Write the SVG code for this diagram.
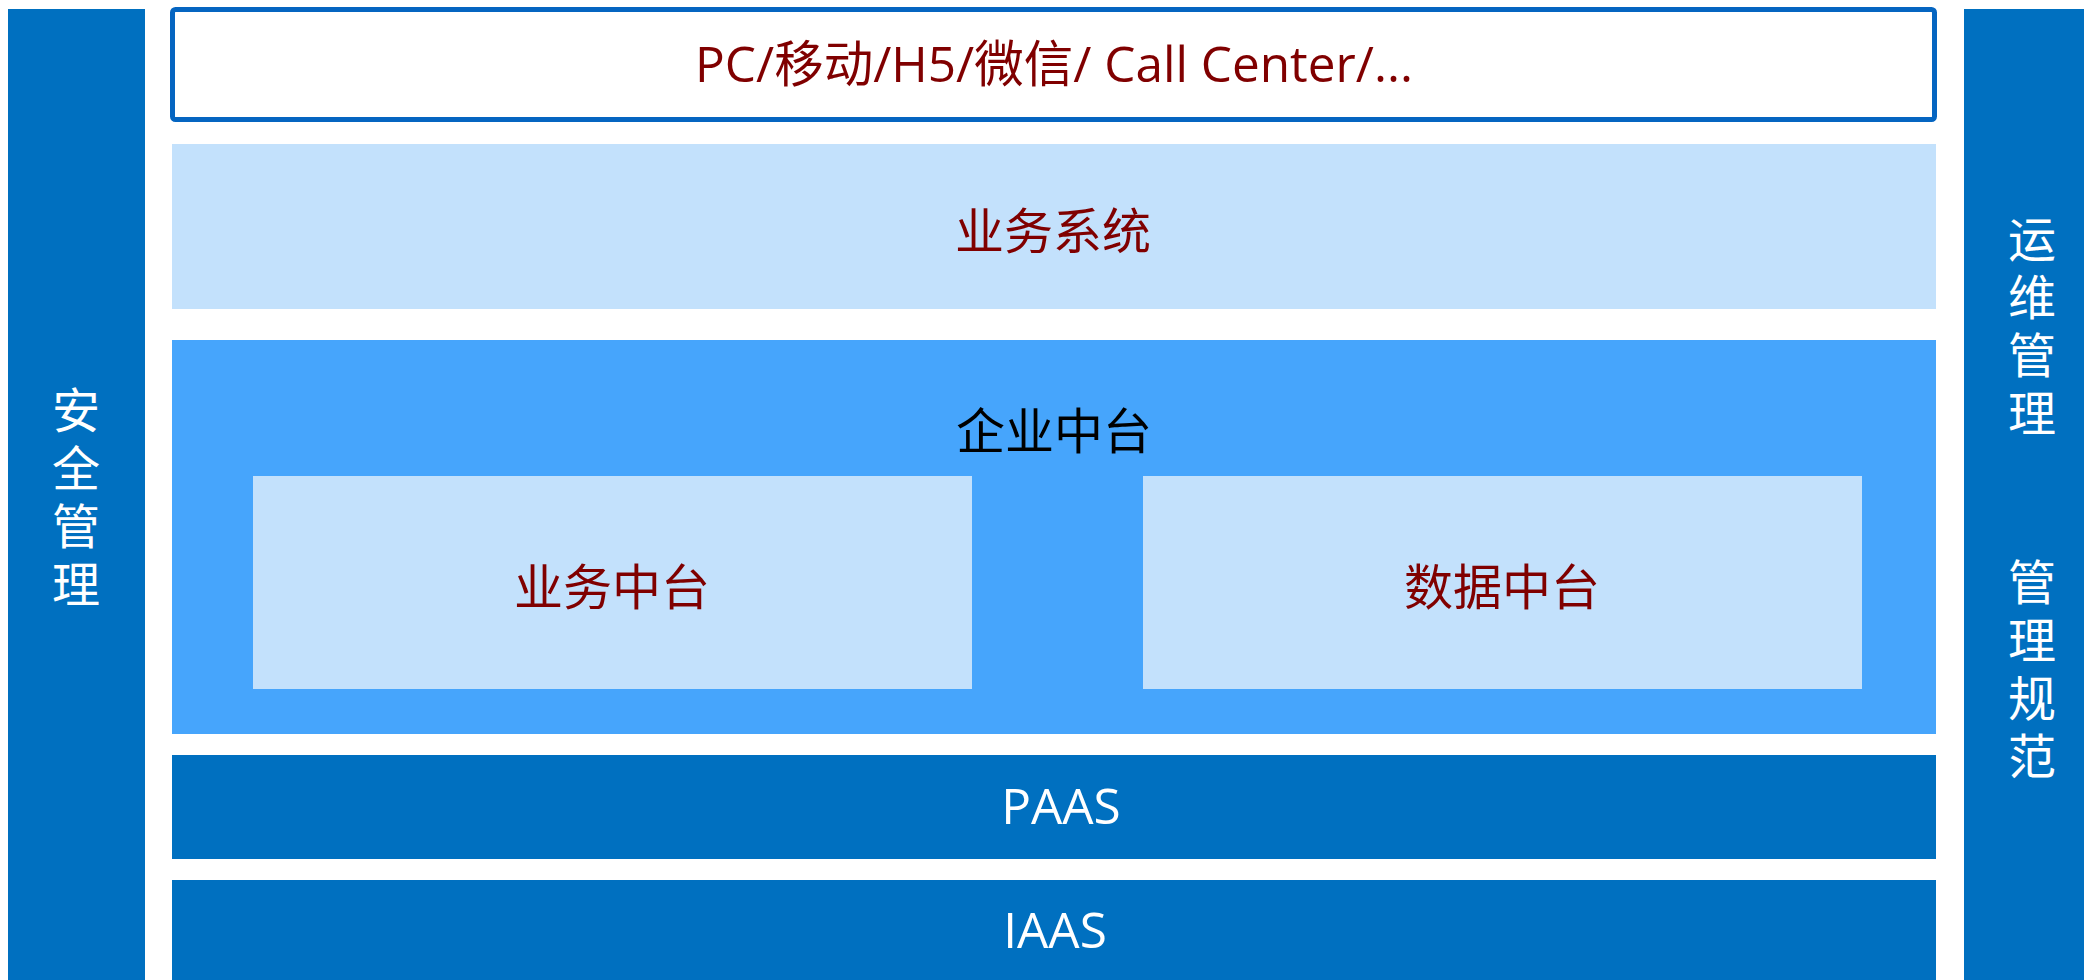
<svg xmlns="http://www.w3.org/2000/svg" width="2084" height="980" viewBox="0 0 2084 980">
<style>
.side{fill:#0070C0}
.light{fill:#C3E1FC}
.mid{fill:#46A5FC}
.dark{fill:#0070C0}
.cjk{font-family:"Noto Sans CJK SC","Noto Sans",sans-serif;font-size:49px;text-anchor:middle;dominant-baseline:central}
.vert{font-family:"Noto Sans CJK SC","Noto Sans",sans-serif;font-size:48px;text-anchor:middle;writing-mode:vertical-rl;letter-spacing:10px}
.lat{font-family:"Open Sans","Noto Sans CJK SC",sans-serif;font-size:49.5px;text-anchor:middle}
.red{fill:#800000}
.white{fill:#FFFFFF}
.black{fill:#000000}
</style>
<rect width="2084" height="980" fill="#FFFFFF"/>
<g id="security">
<rect class="side" x="8" y="9" width="137" height="980"/>
<text class="vert white" x="76" y="502">安全管理</text>
</g>
<g id="ops">
<rect class="side" x="1964" y="9" width="137" height="980"/>
<text class="vert white" x="2032" y="331">运维管理</text>
<text class="vert white" x="2032" y="674">管理规范</text>
</g>
<g id="channels">
<rect x="172.5" y="9.5" width="1762" height="110" rx="3" fill="#FFFFFF" stroke="#0565C1" stroke-width="5"/>
<text class="lat red" x="1054" y="82">PC/移动/H5/微信/ Call Center/...</text>
</g>
<g id="business-system">
<rect class="light" x="172" y="144" width="1764" height="165"/>
<text class="cjk red" x="1053" y="227">业务系统</text>
</g>
<g id="enterprise-platform">
<rect class="mid" x="172" y="340" width="1764" height="394"/>
<text class="cjk black" x="1054" y="427">企业中台</text>
</g>
<g id="business-platform">
<rect class="light" x="253" y="476" width="719" height="213"/>
<text class="cjk red" x="612" y="583">业务中台</text>
</g>
<g id="data-platform">
<rect class="light" x="1143" y="476" width="719" height="213"/>
<text class="cjk red" x="1502" y="583">数据中台</text>
</g>
<g id="paas">
<rect class="dark" x="172" y="755" width="1764" height="104"/>
<text class="lat white" x="1061" y="824">PAAS</text>
</g>
<g id="iaas">
<rect class="dark" x="172" y="880" width="1764" height="110"/>
<text class="lat white" x="1055" y="948">IAAS</text>
</g>
<g id="connectors"></g>
</svg>
